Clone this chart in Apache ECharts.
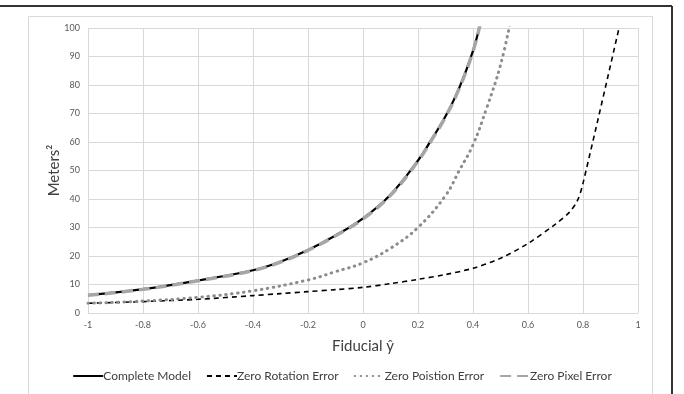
<!DOCTYPE html>
<html><head><meta charset="utf-8">
<script src="https://cdn.jsdelivr.net/npm/echarts@6/dist/echarts.min.js"></script>
<style>html,body{margin:0;padding:0;background:#fff}#c{width:684px;height:394px}</style>
</head><body><div id="c"></div>
<script>
const seriesNames = ['Complete Model', 'Zero Rotation Error', 'Zero Poistion Error', 'Zero Pixel Error'];
const xTicks = [-1, -0.8, -0.6, -0.4, -0.2, 0, 0.2, 0.4, 0.6, 0.8, 1];
const yTicks = [0, 10, 20, 30, 40, 50, 60, 70, 80, 90, 100];

const completeX = [-1, -0.8, -0.6, -0.4, -0.3, -0.2, -0.1, 0, 0.1, 0.2, 0.25, 0.3, 0.35, 0.4, 0.43];
const completeY = [6.3, 8.4, 11.4, 15.0, 18.0, 22.1, 27.2, 33.2, 41.5, 53.5, 61, 69, 79, 92, 103];

const rotationX = [-1, -0.8, -0.6, -0.4, -0.3, -0.2, -0.1, 0, 0.1, 0.2, 0.3, 0.4, 0.5, 0.6, 0.7, 0.75, 0.78, 0.8, 0.95];
const rotationY = [3.4, 4.0, 4.8, 6.1, 6.8, 7.5, 8.2, 9.0, 10.3, 11.8, 13.5, 15.7, 19.2, 24.4, 31.2, 35.3, 39.5, 45.5, 108];

const positionX = [-1, -0.8, -0.6, -0.4, -0.2, -0.1, 0, 0.1, 0.2, 0.3, 0.35, 0.4, 0.45, 0.5, 0.54];
const positionY = [3.4, 4.2, 5.5, 7.8, 11.6, 14.5, 17.6, 22.7, 30, 41.2, 50, 59, 72, 87, 104];

const pixelX = [-1, -0.8, -0.6, -0.4, -0.3, -0.2, -0.1, 0, 0.1, 0.2, 0.25, 0.3, 0.35, 0.4, 0.43];
const pixelY = [6.2, 8.3, 11.3, 14.9, 17.9, 22.0, 27.1, 33.0, 41.3, 53.3, 60.8, 68.8, 78.8, 91.8, 103];

const zip = (xs, ys) => xs.map((x, i) => [x, ys[i]]);
const font = 'Lato, "Open Sans", sans-serif';

const chart = echarts.init(document.getElementById('c'), null, {renderer: 'canvas'});
chart.setOption({
  animation: false,
  backgroundColor: '#fff',
  graphic: [
    {type: 'rect', shape: {x: 28.5, y: 16.5, width: 624, height: 400}, style: {fill: 'none', stroke: '#d9d9d9', lineWidth: 1}, silent: true, z: -10},
    {type: 'line', shape: {x1: 0, y1: 6, x2: 672, y2: 6}, style: {stroke: '#333', lineWidth: 2}, silent: true},
    {type: 'line', shape: {x1: 672, y1: 6, x2: 672, y2: 394}, style: {stroke: '#333', lineWidth: 2}, silent: true}
  ],
  grid: {left: 88, right: 46, top: 28, bottom: 81, containLabel: false},
  xAxis: {
    type: 'value', min: -1, max: 1, interval: 0.2,
    name: 'Fiducial ŷ', nameLocation: 'middle', nameGap: 26, nameMoveOverlap: false,
    nameTextStyle: {fontFamily: font, fontSize: 15, color: '#404040'},
    axisLine: {show: true, lineStyle: {color: '#d9d9d9'}},
    axisTick: {show: false},
    splitLine: {show: true, lineStyle: {color: '#d9d9d9', width: 1}},
    axisLabel: {fontFamily: font, fontSize: 9, color: '#595959', margin: 8,
      formatter: v => { const t = xTicks.find(k => Math.abs(k - v) < 1e-6); return t === undefined ? '' : String(t); }}
  },
  yAxis: {
    type: 'value', min: 0, max: 100, interval: 10,
    name: 'Meters²', nameLocation: 'middle', nameGap: 26, nameMoveOverlap: false,
    nameTextStyle: {fontFamily: font, fontSize: 15, color: '#404040'},
    axisLine: {show: false}, axisTick: {show: false},
    splitLine: {show: true, lineStyle: {color: '#d9d9d9', width: 1}},
    axisLabel: {fontFamily: font, fontSize: 9, color: '#595959', margin: 8,
      formatter: v => { const t = yTicks.find(k => Math.abs(k - v) < 1e-6); return t === undefined ? '' : String(t); }}
  },
  legend: {
    bottom: 7, left: 'center', itemWidth: 30, itemHeight: 10, itemGap: 15,
    itemStyle: {opacity: 0},
    textStyle: {fontFamily: font, fontSize: 12, color: '#404040', padding: [0, 0, 0, -5]},
    data: seriesNames
  },
  series: [
    {name: seriesNames[0], type: 'line', data: zip(completeX, completeY), showSymbol: false, symbol: 'none', smooth: 0.4, clip: true,
      lineStyle: {color: '#000', width: 2.2}, itemStyle: {color: '#000'}, z: 2},
    {name: seriesNames[1], type: 'line', data: zip(rotationX, rotationY), showSymbol: false, symbol: 'none', smooth: 0.3, clip: true,
      lineStyle: {color: '#000', width: 1.6, type: [5, 4]}, itemStyle: {color: '#000'}, z: 3},
    {name: seriesNames[2], type: 'line', data: zip(positionX, positionY), showSymbol: false, symbol: 'none', smooth: 0.4, clip: true,
      lineStyle: {color: '#8c8c8c', width: 3, type: [0.5, 5.5], cap: 'round'}, itemStyle: {color: '#8c8c8c'}, z: 4},
    {name: seriesNames[3], type: 'line', data: zip(pixelX, pixelY), showSymbol: false, symbol: 'none', smooth: 0.4, clip: true,
      lineStyle: {color: '#a6a6a6', width: 3.5, type: [11, 6]}, itemStyle: {color: '#a6a6a6'}, z: 5}
  ]
});
</script></body></html>
